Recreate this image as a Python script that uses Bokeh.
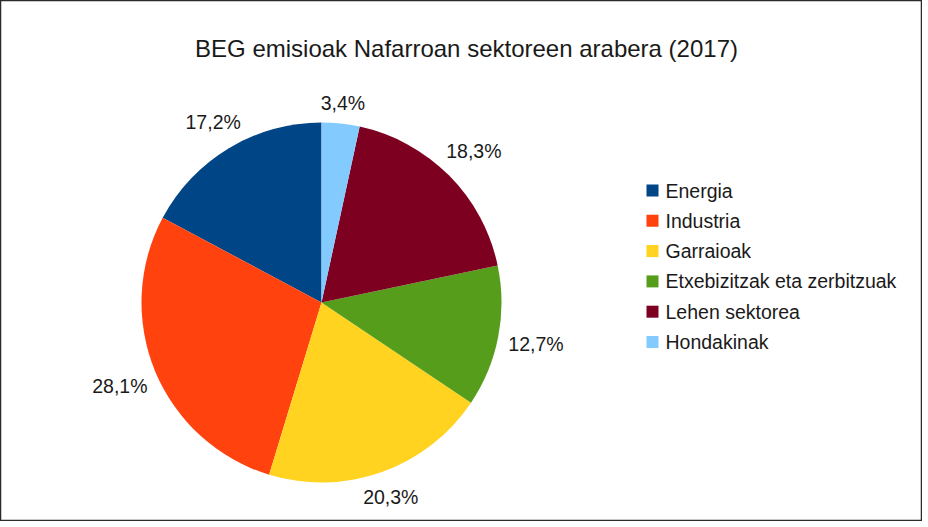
import math
from bokeh.plotting import figure
from bokeh.models import Range1d, ColumnDataSource
from bokeh.core.properties import value
from bokeh.embed import file_html
from bokeh.resources import INLINE

# ---- data ----
title_text = "BEG emisioak Nafarroan sektoreen arabera (2017)"
categories = ["Energia", "Industria", "Garraioak", "Etxebizitzak eta zerbitzuak",
              "Lehen sektorea", "Hondakinak"]
shares = [17.2, 28.1, 20.3, 12.7, 18.3, 3.4]
colors = ["#004586", "#ff420e", "#ffd320", "#579d1c", "#7e0021", "#83caff"]

W, H = 922, 521
FONT = "Liberation Sans"

p = figure(width=W, height=H, x_range=Range1d(0, W), y_range=Range1d(0, H),
           output_backend="svg", toolbar_location=None, min_border=0)
p.axis.visible = False
p.grid.visible = False
p.outline_line_color = "#2a2a2a"
p.outline_line_width = 1.5
p.background_fill_color = "white"
p.border_fill_color = "white"

# pie geometry
cx, cy, r = 321, H - 302, 180
total = sum(shares)
starts, ends, mids = [], [], []
acc = 0.0
for s in shares:
    a0 = math.pi / 2 + 2 * math.pi * acc / total
    acc += s
    a1 = math.pi / 2 + 2 * math.pi * acc / total
    starts.append(a0)
    ends.append(a1)
    mids.append((a0 + a1) / 2)

src = ColumnDataSource(dict(x=[cx] * len(shares), y=[cy] * len(shares),
                            start=starts, end=ends, color=colors))
p.wedge(x="x", y="y", radius=r, start_angle="start", end_angle="end",
        direction="anticlock", fill_color="color", line_color=None, source=src)

# labels outside
R0, hw, hh = 190, 27.5, 7.5
lx, ly, ltxt = [], [], []
for m, s in zip(mids, shares):
    c, sn = math.cos(m), math.sin(m)
    d = R0 + hw * abs(c) + hh * abs(sn)
    lx.append(cx + d * c)
    ly.append(cy + d * sn)
    ltxt.append(f"{s:.1f}".replace(".", ",") + "%")
p.text(x=lx, y=ly, text=ltxt, text_align="center", text_baseline="middle",
       text_font=value(FONT), text_font_size="19.5px", text_color="#1a1a1a")

# title
p.text(x=[466], y=[H - 48], text=[title_text], text_align="center",
       text_baseline="middle", text_font=value(FONT), text_font_size="24px",
       text_color="#1a1a1a")

# legend
leg_x, leg_y0, leg_dy = 652, H - 190, 30.3
ys = [leg_y0 - i * leg_dy for i in range(len(categories))]
p.scatter(x=[leg_x] * len(categories), y=ys, marker="square", size=12,
          fill_color=colors, line_color=None)
p.text(x=[leg_x + 13] * len(categories), y=ys, text=categories,
       text_align="left", text_baseline="middle", text_font=value(FONT),
       text_font_size="19.5px", text_color="#1a1a1a")

open("out.html", "w").write(file_html(p, INLINE))
